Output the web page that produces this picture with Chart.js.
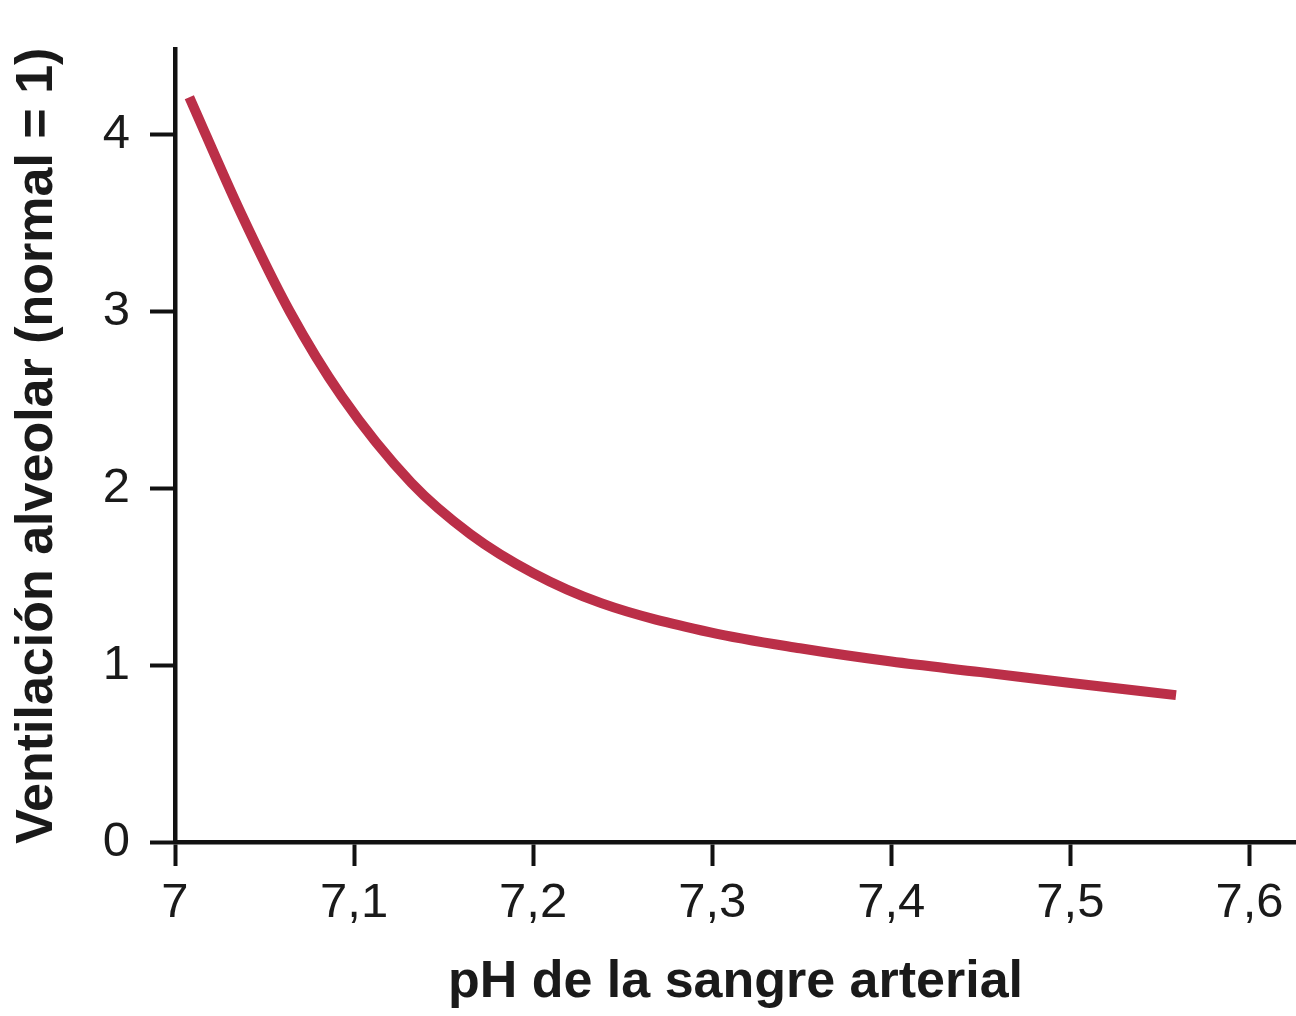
<!DOCTYPE html>
<html>
<head>
<meta charset="utf-8">
<script src="https://cdn.jsdelivr.net/npm/chart.js@4"></script>
<style>
  html, body { margin: 0; padding: 0; background: #fff; }
  #wrap { width: 1296px; height: 1016px; }
</style>
</head>
<body>
<div id="wrap"><canvas id="c" width="1296" height="1016"></canvas></div>
<script>
// Data
const phValues      = [7.008, 7.037, 7.064, 7.093, 7.132, 7.165, 7.200, 7.238, 7.299, 7.349, 7.400, 7.450, 7.499, 7.559];
const ventilation   = [4.21,  3.55,  3.00,  2.52,  2.03,  1.74,  1.52,  1.35,  1.185, 1.095, 1.02,  0.96,  0.90,  0.83];
const xTickValues   = [7, 7.1, 7.2, 7.3, 7.4, 7.5, 7.6];
const xTickLabels   = ['7', '7,1', '7,2', '7,3', '7,4', '7,5', '7,6'];
const yTickValues   = [0, 1, 2, 3, 4];
const yTickLabels   = ['0', '1', '2', '3', '4'];
const xTitle = 'pH de la sangre arterial';
const yTitle = 'Ventilación alveolar (normal = 1)';

const points = phValues.map((x, i) => ({ x: x, y: ventilation[i] }));
const axisColor = '#111111';
const fontFamily = '"Liberation Sans", Arial, Helvetica, sans-serif';

new Chart(document.getElementById('c'), {
  type: 'scatter',
  data: {
    datasets: [{
      data: points,
      showLine: true,
      borderColor: '#bb2f48',
      borderWidth: 10,
      borderCapStyle: 'butt',
      borderJoinStyle: 'round',
      pointRadius: 0,
      pointHoverRadius: 0,
      cubicInterpolationMode: 'monotone',
      fill: false
    }]
  },
  options: {
    responsive: false,
    animation: false,
    events: [],
    layout: { padding: { top: 32, right: 0, left: 0, bottom: 0 } },
    plugins: { legend: { display: false }, tooltip: { enabled: false } },
    scales: {
      x: {
        type: 'linear',
        min: 7,
        max: 7.626,
        afterBuildTicks: (s) => { s.ticks = xTickValues.map(v => ({ value: v })); },
        afterFit: (s) => { s.height = 174; },
        border: { display: true, color: axisColor, width: 4.5 },
        grid: { drawOnChartArea: false, drawTicks: true, tickLength: 24, tickWidth: 4, tickColor: axisColor },
        ticks: {
          autoSkip: false,
          maxRotation: 0,
          padding: 8,
          color: '#1a1a1a',
          font: { family: fontFamily, size: 49 },
          callback: (v) => { const i = xTickValues.findIndex(t => Math.abs(t - v) < 1e-6); return i >= 0 ? xTickLabels[i] : ''; }
        },
        title: {
          display: true,
          text: xTitle,
          color: '#1a1a1a',
          font: { family: fontFamily, size: 52, weight: 'bold' },
          padding: { top: 0, bottom: 2 }
        }
      },
      y: {
        type: 'linear',
        min: 0,
        max: 4.48,
        afterBuildTicks: (s) => { s.ticks = yTickValues.map(v => ({ value: v })); },
        afterFit: (s) => { s.width = 175; },
        border: { display: true, color: axisColor, width: 4.5 },
        grid: { drawOnChartArea: false, drawTicks: true, tickLength: 25, tickWidth: 4, tickColor: axisColor },
        ticks: {
          autoSkip: false,
          padding: 20,
          color: '#1a1a1a',
          font: { family: fontFamily, size: 49 },
          callback: (v) => { const i = yTickValues.findIndex(t => Math.abs(t - v) < 1e-6); return i >= 0 ? yTickLabels[i] : ''; }
        },
        title: {
          display: true,
          text: yTitle,
          color: '#1a1a1a',
          font: { family: fontFamily, size: 52, weight: 'bold' },
          padding: { top: 6, bottom: 0 }
        }
      }
    }
  }
});
</script>
</body>
</html>
